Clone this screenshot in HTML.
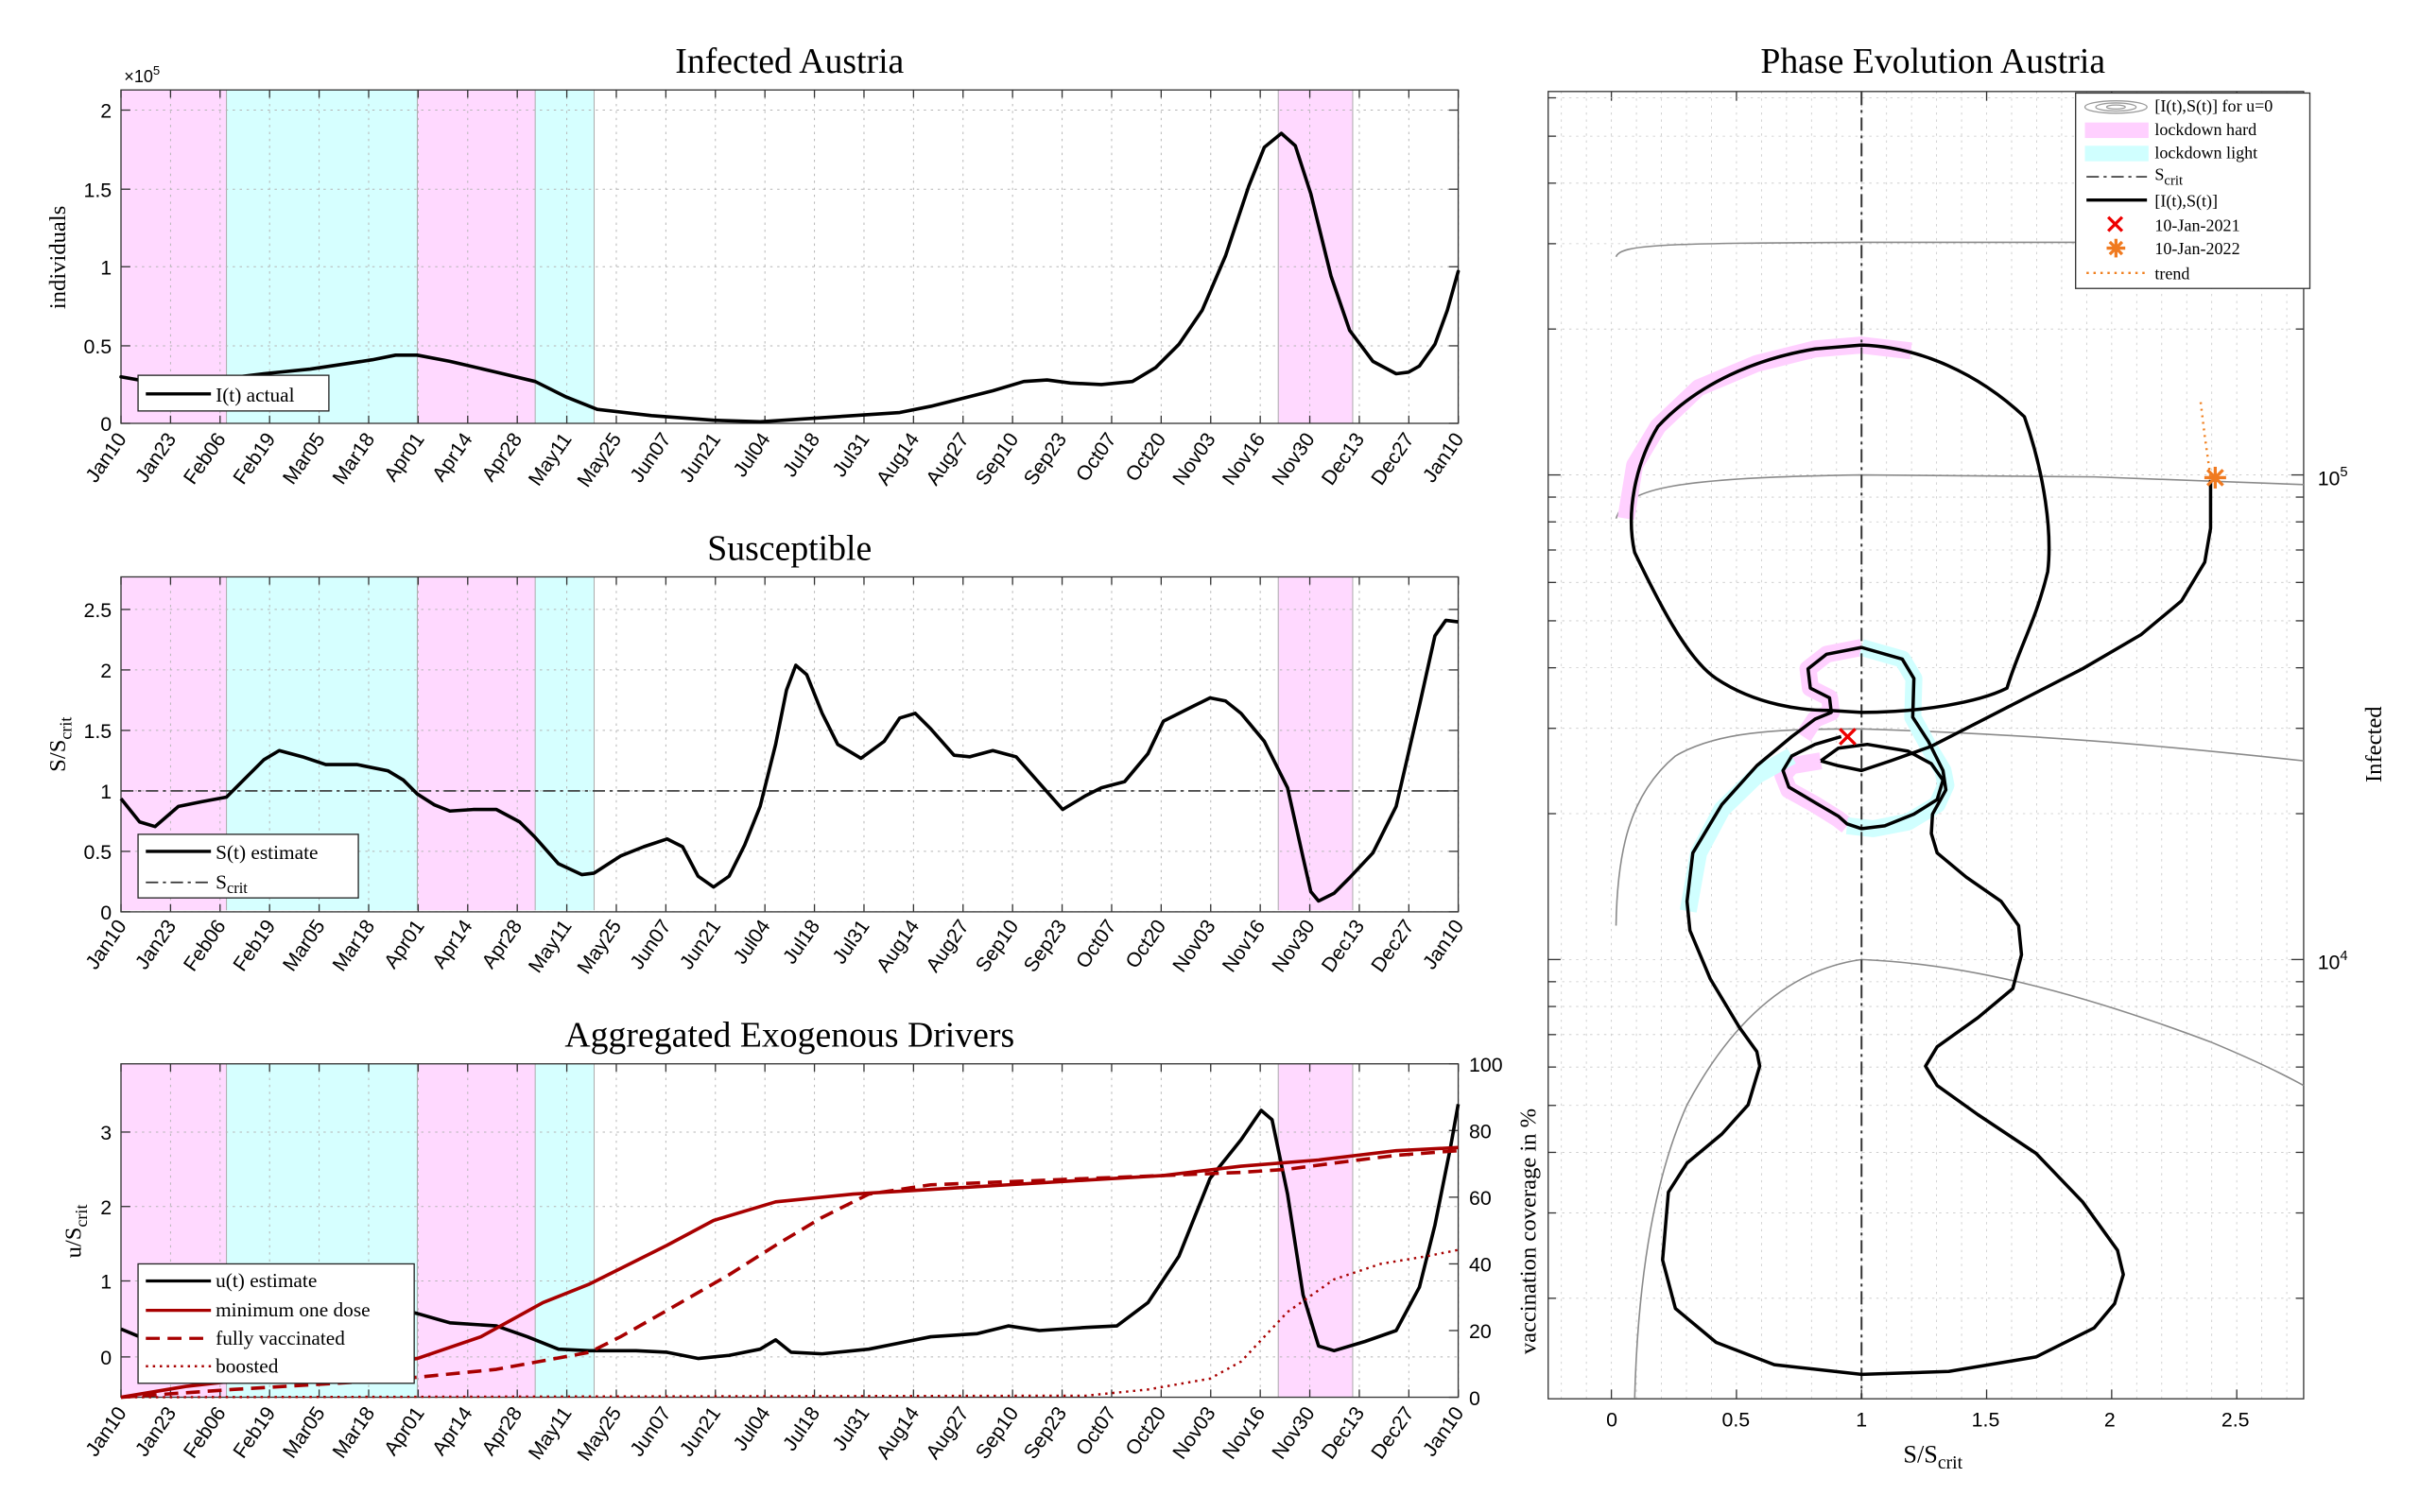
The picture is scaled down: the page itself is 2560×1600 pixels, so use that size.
<!DOCTYPE html>
<html><head><meta charset="utf-8"><style>
html,body{margin:0;padding:0;background:#fff}
svg{display:block}
.t{font-family:"Liberation Serif",serif}
.s{font-family:"Liberation Sans",sans-serif}
</style></head><body>
<svg id="svg" width="2560" height="1600" viewBox="0 0 1560 975" xmlns="http://www.w3.org/2000/svg">
<rect width="1560" height="975" fill="#fff"/>
<g id="shadeDefs">
<g id="sh1">
<rect x="78" y="58" width="68" height="215" fill="#ffd9ff"/>
<rect x="146" y="58" width="123" height="215" fill="#d6ffff"/>
<rect x="269" y="58" width="76" height="215" fill="#ffd9ff"/>
<rect x="345" y="58" width="38" height="215" fill="#d6ffff"/>
<rect x="824" y="58" width="48" height="215" fill="#ffd9ff"/>
<g stroke="#aaa" stroke-width="0.6"><line x1="146" y1="58" x2="146" y2="273"/><line x1="269" y1="58" x2="269" y2="273"/><line x1="345" y1="58" x2="345" y2="273"/><line x1="383" y1="58" x2="383" y2="273"/><line x1="824" y1="58" x2="824" y2="273"/><line x1="872" y1="58" x2="872" y2="273"/></g>
</g>
</g>
<use href="#sh1" transform="translate(0,314)"/>
<use href="#sh1" transform="translate(0,628)"/>
<g id="grids"></g>

<text class="t" x="509" y="47" font-size="23" text-anchor="middle">Infected Austria</text>
<text class="s" x="80" y="53" font-size="11">×10<tspan dy="-5" font-size="8">5</tspan></text>
<text class="t" x="42" y="166" font-size="15" text-anchor="middle" transform="rotate(-90 42 166)">individuals</text>
<g class="s" font-size="13" text-anchor="end">
<text x="72" y="278">0</text><text x="72" y="228">0.5</text><text x="72" y="177">1</text><text x="72" y="127">1.5</text><text x="72" y="76">2</text>
</g>
<g fill="none" stroke-linejoin="round" stroke-linecap="round">
<polyline stroke="#000" stroke-width="2.2" points="78,243 95,246 110,248 130,247 146,244 170,241 200,238 240,232 255,229 269,229 290,233 320,240 345,246 365,256 385,264 420,268 460,271 490,272 520,270 550,268 580,266 600,262 620,257 640,252 660,246 675,245 690,247 710,248 730,246 745,237 760,222 775,200 790,165 805,120 815,95 826,86 835,94 845,125 858,178 870,213 885,233 900,241 908,240 915,236 925,222 933,200 940,175"/>
</g>
<g><rect x="89" y="242" width="123" height="23" fill="#fff" stroke="#222" stroke-width="0.8"/>
<line x1="94" y1="254" x2="136" y2="254" stroke="#000" stroke-width="2"/>
<text class="t" x="139" y="259" font-size="13">I(t) actual</text></g>

<text class="t" x="509" y="361" font-size="23" text-anchor="middle">Susceptible</text>
<text class="t" x="42" y="480" font-size="15" text-anchor="middle" transform="rotate(-90 42 480)">S/S<tspan font-size="11" dy="4">crit</tspan></text>
<g class="s" font-size="13" text-anchor="end">
<text x="72" y="593">0</text><text x="72" y="554">0.5</text><text x="72" y="515">1</text><text x="72" y="476">1.5</text><text x="72" y="437">2</text><text x="72" y="398">2.5</text>
</g>
<line x1="78" y1="510" x2="940" y2="510" stroke="#333" stroke-width="1" stroke-dasharray="8,3,2,3"/>
<polyline fill="none" stroke="#000" stroke-width="2.2" stroke-linejoin="round" points="78,515 90,530 100,533 115,520 130,517 146,514 160,500 170,490 180,484 195,488 210,493 230,493 250,497 260,503 269,512 280,519 290,523 305,522 320,522 335,530 345,540 360,557 375,564 383,563 400,552 415,546 430,541 440,546 450,565 460,572 470,565 480,545 490,520 500,480 507,445 513,429 520,435 530,460 540,480 555,489 570,478 580,463 590,460 600,470 615,487 625,488 640,484 655,488 670,505 685,522 700,513 710,508 725,504 740,486 750,465 760,460 770,455 780,450 790,452 800,460 815,478 830,508 840,553 845,575 850,581 860,576 870,566 885,550 900,520 915,455 925,410 932,400 940,401"/>
<g><rect x="89" y="538" width="142" height="41" fill="#fff" stroke="#222" stroke-width="0.8"/>
<line x1="94" y1="549" x2="136" y2="549" stroke="#000" stroke-width="2"/>
<line x1="94" y1="569" x2="136" y2="569" stroke="#333" stroke-width="1" stroke-dasharray="8,3,2,3"/>
<text class="t" x="139" y="554" font-size="13">S(t) estimate</text>
<text class="t" x="139" y="573" font-size="13">S<tspan font-size="10" dy="3">crit</tspan></text></g>

<text class="t" x="509" y="675" font-size="23" text-anchor="middle">Aggregated Exogenous Drivers</text>
<text class="t" x="52" y="794" font-size="15" text-anchor="middle" transform="rotate(-90 52 794)">u/S<tspan font-size="11" dy="4">crit</tspan></text>
<g class="s" font-size="13" text-anchor="end">
<text x="72" y="880">0</text><text x="72" y="831">1</text><text x="72" y="783">2</text><text x="72" y="735">3</text>
</g>
<g class="s" font-size="13" text-anchor="start">
<text x="947" y="906">0</text><text x="947" y="863">20</text><text x="947" y="820">40</text><text x="947" y="777">60</text><text x="947" y="734">80</text><text x="947" y="691">100</text>
</g>
<text class="t" x="990" y="794" font-size="15" text-anchor="middle" transform="rotate(-90 990 794)">vaccination coverage in %</text>
<g fill="none" stroke-linejoin="round">
<polyline stroke="#000" stroke-width="2.2" points="78,857 90,862 110,864 140,862 160,855 180,850 220,848 260,845 269,847 290,853 320,855 340,862 360,870 380,871 410,871 430,872 450,876 470,874 490,870 500,864 510,872 530,873 560,870 580,866 600,862 630,860 650,855 670,858 700,856 720,855 740,840 760,810 780,760 800,735 813,716 820,722 830,770 840,835 850,868 860,871 880,865 900,858 915,830 925,790 935,740 940,712"/>
<polyline stroke="#a80000" stroke-width="2.2" points="78,901 120,894 200,885 269,876 310,862 350,840 380,828 400,818 430,803 460,787 500,775 550,770 600,767 650,764 700,761 750,758 800,752 850,748 900,742 940,740"/>
<polyline stroke="#a80000" stroke-width="2.2" stroke-dasharray="9,5" points="78,901 150,896 250,890 320,883 380,872 400,862 430,845 470,822 500,803 530,785 560,770 600,764 650,762 700,760 750,758 800,756 830,754 860,750 900,745 940,742"/>
<polyline stroke="#a80000" stroke-width="1.5" stroke-dasharray="1.5,3" points="78,901 700,900 740,896 780,889 800,878 830,846 860,825 890,815 920,810 940,806"/>
</g>
<g><rect x="89" y="815" width="178" height="77" fill="#fff" stroke="#222" stroke-width="0.8"/>
<line x1="94" y1="826" x2="136" y2="826" stroke="#000" stroke-width="2"/>
<line x1="94" y1="845" x2="136" y2="845" stroke="#a80000" stroke-width="2"/>
<line x1="94" y1="863" x2="136" y2="863" stroke="#a80000" stroke-width="2" stroke-dasharray="9,5"/>
<line x1="94" y1="881" x2="136" y2="881" stroke="#a80000" stroke-width="1.5" stroke-dasharray="1.5,3"/>
<g class="t" font-size="13"><text x="139" y="830">u(t) estimate</text><text x="139" y="849">minimum one dose</text><text x="139" y="867">fully vaccinated</text><text x="139" y="885">boosted</text></g></g>

<text class="t" x="1246" y="47" font-size="23" text-anchor="middle">Phase Evolution Austria</text>
<g id="ph" transform="translate(975,0) scale(0.375,0.625)">
<g fill="none" stroke="#8a8a8a">
<path vector-effect="non-scaling-stroke" stroke-width="1.6" d="M178,265 C185,252 260,251 600,250 L1360,250"/>
<path vector-effect="non-scaling-stroke" stroke-width="1.6" d="M178,535 C195,505 260,493 600,490 L1000,492 L1360,500"/>
<path vector-effect="non-scaling-stroke" stroke-width="1.6" d="M178,955 C180,880 200,820 280,780 C350,755 450,752 600,752 C900,758 1100,768 1360,785"/>
<path vector-effect="non-scaling-stroke" stroke-width="1.6" d="M210,1443 C215,1330 240,1220 300,1140 C380,1050 480,1000 600,990 C800,995 1000,1030 1200,1075 C1280,1095 1330,1110 1360,1120"/>
</g>
<g fill="none" stroke-linecap="butt" stroke-linejoin="round">
<polyline vector-effect="non-scaling-stroke" stroke="#ffd0ff" stroke-width="18" points="195,535 210,480 250,440 320,400 420,375 520,360 600,356 685,362"/>
<polyline vector-effect="non-scaling-stroke" stroke="#ffd0ff" stroke-width="18" points="600,668 540,675 508,690 512,710 545,720 548,735 520,742 500,760"/>
<polyline vector-effect="non-scaling-stroke" stroke="#ffd0ff" stroke-width="18" points="530,785 480,790 465,800 475,815 520,830 560,845 575,852"/>
<polyline vector-effect="non-scaling-stroke" stroke="#d0ffff" stroke-width="18" points="600,668 670,680 690,700 688,740 715,770 740,795 745,810 730,830 680,848 620,855 575,852"/>
<polyline vector-effect="non-scaling-stroke" stroke="#d0ffff" stroke-width="18" points="480,780 420,800 360,835 320,880 302,940"/>
</g>
<line vector-effect="non-scaling-stroke" x1="600" y1="95" x2="600" y2="1443" stroke="#333" stroke-width="2" stroke-dasharray="14,5,3,5"/>
<g fill="none" stroke="#000" stroke-width="3.5" stroke-linejoin="round">
<polyline vector-effect="non-scaling-stroke" points="530,785 560,790 600,795 650,785 720,770 850,730 980,690 1080,655 1150,620 1190,580 1200,545 1200,495"/>
<polyline vector-effect="non-scaling-stroke" points="530,785 560,772 610,768 680,775 720,788 740,805 730,825 690,840 640,852 600,855 575,850 560,842 520,828 475,812 465,795 480,780 520,768 565,760"/>
<polyline vector-effect="non-scaling-stroke" points="600,668 670,680 690,700 688,740 715,765 740,795 745,815 722,840 720,860 730,880 780,905 840,930 870,955 875,985 860,1020 800,1050 730,1080 710,1100 730,1120 800,1150 900,1190 980,1240 1040,1290 1050,1315 1035,1345 1000,1370 900,1400 750,1415 600,1418 450,1408 350,1385 280,1350 258,1300 268,1230 300,1200 360,1170 405,1140 425,1100 420,1085 390,1060 340,1010 305,960 300,930 310,880 360,830 420,790 480,760 520,742 548,735 545,720 512,710 508,690 540,675 600,668"/>
<path vector-effect="non-scaling-stroke" d="M545,733 C500,733 420,728 350,700 C300,680 250,620 210,570 C195,530 210,480 250,440 C320,395 420,370 520,360 L600,356 C700,358 800,385 880,430 C915,490 928,550 920,590 C900,640 870,670 850,710 C800,725 700,735 600,735 Z"/>
</g>
<polyline vector-effect="non-scaling-stroke" fill="none" stroke="#f08020" stroke-width="2.5" stroke-dasharray="2,5" points="1183,415 1190,450 1200,493"/>
</g>
<g stroke="#e00" stroke-width="2"><line x1="1186" y1="470" x2="1196" y2="480"/><line x1="1196" y1="470" x2="1186" y2="480"/></g>
<g stroke="#f07a20" stroke-width="2"><line x1="1421" y1="308" x2="1435" y2="308"/><line x1="1428" y1="301" x2="1428" y2="315"/><line x1="1423" y1="303" x2="1433" y2="313"/><line x1="1433" y1="303" x2="1423" y2="313"/></g>
<g class="s" font-size="13" text-anchor="middle">
<text x="1039" y="920">0</text><text x="1119" y="920">0.5</text><text x="1200" y="920">1</text><text x="1280" y="920">1.5</text><text x="1360" y="920">2</text><text x="1441" y="920">2.5</text>
</g>
<text class="t" x="1246" y="943" font-size="16" text-anchor="middle">S/S<tspan font-size="12" dy="4">crit</tspan></text>
<text class="s" x="1494" y="313" font-size="13">10<tspan font-size="9" dy="-6">5</tspan></text>
<text class="s" x="1494" y="625" font-size="13">10<tspan font-size="9" dy="-6">4</tspan></text>
<text class="t" x="1535" y="480" font-size="15" text-anchor="middle" transform="rotate(-90 1535 480)">Infected</text>
<g>
<rect x="1338" y="60" width="151" height="126" fill="#fff" stroke="#333" stroke-width="0.8"/>
<g fill="none" stroke="#999" stroke-width="0.8"><ellipse cx="1364" cy="69" rx="20" ry="4"/><ellipse cx="1364" cy="69" rx="13" ry="2.6"/><ellipse cx="1364" cy="69" rx="6" ry="1.3"/></g>
<rect x="1344" y="79" width="41" height="10" fill="#ffd0ff"/>
<rect x="1344" y="94" width="41" height="10" fill="#d0ffff"/>
<line x1="1345" y1="114" x2="1384" y2="114" stroke="#333" stroke-width="1" stroke-dasharray="8,3,2,3"/>
<line x1="1345" y1="129" x2="1384" y2="129" stroke="#000" stroke-width="2"/>
<g stroke="#e00" stroke-width="2"><line x1="1359" y1="140" x2="1368" y2="149"/><line x1="1368" y1="140" x2="1359" y2="149"/></g>
<g stroke="#f07a20" stroke-width="2"><line x1="1358" y1="160" x2="1370" y2="160"/><line x1="1364" y1="154" x2="1364" y2="166"/><line x1="1360" y1="156" x2="1368" y2="164"/><line x1="1368" y1="156" x2="1360" y2="164"/></g>
<line x1="1345" y1="176" x2="1384" y2="176" stroke="#f08020" stroke-width="1.5" stroke-dasharray="1.5,3"/>
<g class="t" font-size="11"><text x="1389" y="72">[I(t),S(t)] for u=0</text><text x="1389" y="87">lockdown hard</text><text x="1389" y="102">lockdown light</text><text x="1389" y="116">S<tspan font-size="9" dy="3">crit</tspan></text><text x="1389" y="133">[I(t),S(t)]</text><text x="1389" y="149">10-Jan-2021</text><text x="1389" y="164">10-Jan-2022</text><text x="1389" y="180">trend</text></g>
</g>
<g id="lab1" class="s" font-size="13" text-anchor="end">
<text transform="translate(82,283) rotate(-55)">Jan10</text>
<text transform="translate(114,283) rotate(-55)">Jan23</text>
<text transform="translate(146,283) rotate(-55)">Feb06</text>
<text transform="translate(178,283) rotate(-55)">Feb19</text>
<text transform="translate(210,283) rotate(-55)">Mar05</text>
<text transform="translate(242,283) rotate(-55)">Mar18</text>
<text transform="translate(274,283) rotate(-55)">Apr01</text>
<text transform="translate(305,283) rotate(-55)">Apr14</text>
<text transform="translate(337,283) rotate(-55)">Apr28</text>
<text transform="translate(369,283) rotate(-55)">May11</text>
<text transform="translate(401,283) rotate(-55)">May25</text>
<text transform="translate(433,283) rotate(-55)">Jun07</text>
<text transform="translate(465,283) rotate(-55)">Jun21</text>
<text transform="translate(497,283) rotate(-55)">Jul04</text>
<text transform="translate(529,283) rotate(-55)">Jul18</text>
<text transform="translate(561,283) rotate(-55)">Jul31</text>
<text transform="translate(593,283) rotate(-55)">Aug14</text>
<text transform="translate(625,283) rotate(-55)">Aug27</text>
<text transform="translate(657,283) rotate(-55)">Sep10</text>
<text transform="translate(688,283) rotate(-55)">Sep23</text>
<text transform="translate(720,283) rotate(-55)">Oct07</text>
<text transform="translate(752,283) rotate(-55)">Oct20</text>
<text transform="translate(784,283) rotate(-55)">Nov03</text>
<text transform="translate(816,283) rotate(-55)">Nov16</text>
<text transform="translate(848,283) rotate(-55)">Nov30</text>
<text transform="translate(880,283) rotate(-55)">Dec13</text>
<text transform="translate(912,283) rotate(-55)">Dec27</text>
<text transform="translate(944,283) rotate(-55)">Jan10</text>
</g>
<use href="#lab1" transform="translate(0,314)"/>
<use href="#lab1" transform="translate(0,628)"/>
</svg>
<script>
(function(){
var NS="http://www.w3.org/2000/svg";
function L(p,x1,y1,x2,y2,st,w,da){var l=document.createElementNS(NS,"line");l.setAttribute("x1",x1);l.setAttribute("y1",y1);l.setAttribute("x2",x2);l.setAttribute("y2",y2);l.setAttribute("stroke",st);l.setAttribute("stroke-width",w);if(da)l.setAttribute("stroke-dasharray",da);p.appendChild(l);return l;}
var g=document.getElementById("grids");
var panels=[[58,273,[273,223,172,122,71],null],[372,588,[588,549,510,471,432,393],null],[686,901,[875,826,778,730],[901,858,815,772,729,686]]];
panels.forEach(function(P){
 var t=P[0],b=P[1];
 for(var i=0;i<28;i++){var x=78+i*31.93;L(g,x,t,x,b,"#b5b5b5",0.6,"1.5,3");L(g,x,b,x,b-5,"#333",0.8);L(g,x,t,x,t+5,"#333",0.8);}
 P[2].forEach(function(y){L(g,78,y,940,y,"#b5b5b5",0.6,"1.5,3");L(g,78,y,84,y,"#333",0.8);if(!P[3])L(g,940,y,934,y,"#333",0.8);});
 if(P[3])P[3].forEach(function(y){L(g,940,y,934,y,"#333",0.8);});
 var r=document.createElementNS(NS,"rect");r.setAttribute("x",78);r.setAttribute("y",t);r.setAttribute("width",862);r.setAttribute("height",b-t);r.setAttribute("fill","none");r.setAttribute("stroke","#333");r.setAttribute("stroke-width",0.8);g.appendChild(r);
});
var pg=document.getElementById("grids");
var X0=998,X1=1485,Y0=59,Y1=902;
function sx(s){return 975+(170+430*s)*0.375;}
for(var k=-2;k<=27;k++){var x=sx(k/10);if(x>X0&&x<X1)L(pg,x,Y0,x,Y1,"#c8c8c8",0.5,"1.5,3");}
[0,0.5,1,1.5,2,2.5].forEach(function(s){var x=sx(s);L(pg,x,Y1,x,Y1-6,"#333",0.8);L(pg,x,Y0,x,Y0+6,"#333",0.8);});
function ly(v){return (490-500*(v-5))*0.625;}
for(var e=2;e<=5;e++)for(var m=1;m<=9;m++){var y=ly(e+Math.log10(m));if(y>Y0&&y<Y1){L(pg,X0,y,X1,y,"#c8c8c8",0.5,"1.5,3");var len=(m==1)?8:5;L(pg,X0,y,X0+len,y,"#333",0.8);L(pg,X1,y,X1-len,y,"#333",0.8);}}
var r=document.createElementNS(NS,"rect");r.setAttribute("x",X0);r.setAttribute("y",Y0);r.setAttribute("width",X1-X0);r.setAttribute("height",Y1-Y0);r.setAttribute("fill","none");r.setAttribute("stroke","#333");r.setAttribute("stroke-width",0.8);pg.appendChild(r);
})();
</script>
</body></html>
